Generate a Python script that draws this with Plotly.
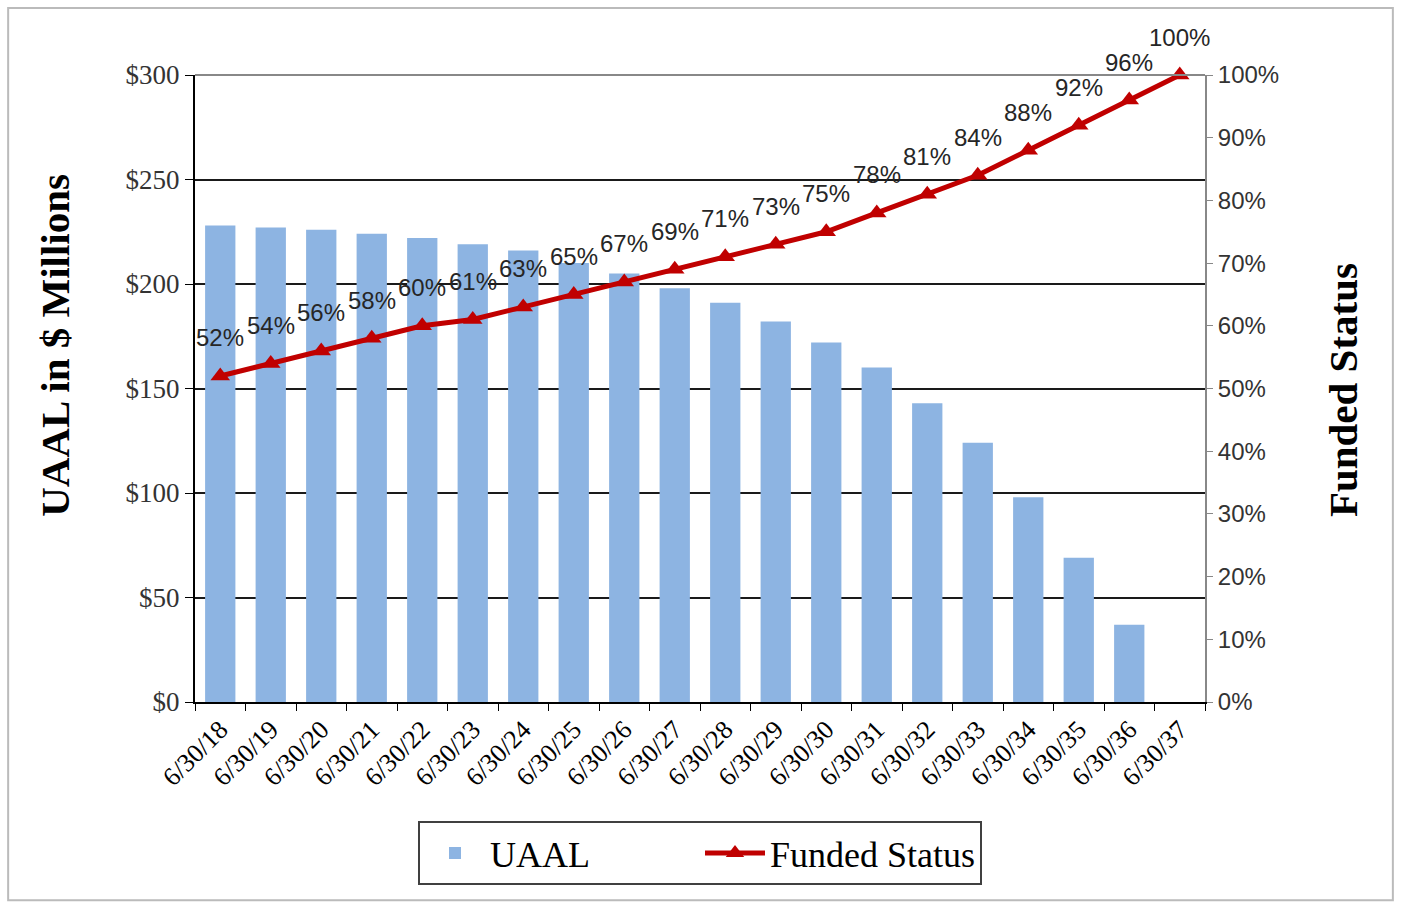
import plotly.graph_objects as go

# Valuation dates
dates = ["6/30/18", "6/30/19", "6/30/20", "6/30/21", "6/30/22", "6/30/23", "6/30/24",
         "6/30/25", "6/30/26", "6/30/27", "6/30/28", "6/30/29", "6/30/30", "6/30/31",
         "6/30/32", "6/30/33", "6/30/34", "6/30/35", "6/30/36", "6/30/37"]

# Unfunded actuarial accrued liability, $ millions
uaal = [228, 227, 226, 224, 222, 219, 216, 210, 205, 198, 191, 182, 172, 160,
        143, 124, 98, 69, 37, 0]

# Funded ratio, percent
funded_pct = [52, 54, 56, 58, 60, 61, 63, 65, 67, 69, 71, 73, 75, 78, 81, 84,
              88, 92, 96, 100]

funded = [p / 100 for p in funded_pct]

SERIF = "Liberation Serif, Times New Roman, serif"
SANS = "Liberation Sans, Arial, sans-serif"

fig = go.Figure()

fig.add_trace(go.Bar(
    x=dates, y=uaal, name="UAAL",
    marker=dict(color="#8DB4E2", line=dict(width=0)),
    width=0.6,
))

fig.add_trace(go.Scatter(
    x=dates, y=funded, name="Funded Status", yaxis="y2",
    mode="lines+markers",
    line=dict(color="#C00000", width=5),
    marker=dict(symbol="triangle-up", size=17, color="#C00000"),
    cliponaxis=False,
))

# Percentage labels above each point of the funded line
annotations = []
for d, f, p in zip(dates, funded, funded_pct):
    annotations.append(dict(
        x=d, y=f, xref="x", yref="y2", text=f"{p}%", showarrow=False,
        yshift=38, font=dict(family=SANS, size=24, color="#262626"),
    ))

# Axis titles
annotations.append(dict(
    x=-0.138, y=0.569, xref="paper", yref="paper", text="<b>UAAL in $ Millions</b>",
    textangle=-90, showarrow=False, xanchor="center", yanchor="middle",
    font=dict(family=SERIF, size=41, color="#000"),
))
annotations.append(dict(
    x=1.136, y=0.498, xref="paper", yref="paper", text="<b>Funded Status</b>",
    textangle=-90, showarrow=False, xanchor="center", yanchor="middle",
    font=dict(family=SERIF, size=41, color="#000"),
))

fig.update_layout(
    width=1406, height=909,
    margin=dict(l=195, r=201, t=75, b=207),
    paper_bgcolor="white", plot_bgcolor="white",
    bargap=0.4,
    showlegend=True,
    legend=dict(
        orientation="h", x=0.5, xanchor="center", y=-0.19, yanchor="top",
        bordercolor="#404040", borderwidth=2,
        font=dict(family=SERIF, size=36, color="#000"),
        itemwidth=60, entrywidth=205, traceorder="normal",
    ),
    xaxis=dict(
        type="category", range=[-0.5, len(dates) - 0.5],
        tickson="boundaries", ticks="outside", ticklen=7,
        tickcolor="#000", showline=True, linecolor="#000", linewidth=2,
        tickangle=-45, tickfont=dict(family=SERIF, size=26, color="#000"),
        showgrid=False,
    ),
    yaxis=dict(
        range=[0, 300], dtick=50, tickprefix="$", ticks="outside", ticklen=8,
        tickcolor="#000", showline=True, linecolor="#000", linewidth=2,
        gridcolor="#1a1a1a", gridwidth=1.5, zeroline=False,
        tickfont=dict(family=SERIF, size=27, color="#333"),
    ),
    yaxis2=dict(
        overlaying="y", side="right", range=[0, 1], dtick=0.1, tickformat=".0%",
        ticks="outside", ticklen=6, tickcolor="#888", showline=True,
        linecolor="#888", linewidth=2, showgrid=False, zeroline=False,
        tickfont=dict(family=SANS, size=24, color="#333"),
    ),
    annotations=annotations,
    shapes=[
        dict(type="rect", xref="paper", yref="paper",
             x0=-0.185, x1=1.186, y0=-0.316, y1=1.107,
             line=dict(color="#bbbbbb", width=2), layer="below"),
        dict(type="line", xref="paper", yref="paper", x0=0, x1=1, y0=1, y1=1,
             line=dict(color="#888", width=2)),
    ],
)

fig.write_html("out.html")
